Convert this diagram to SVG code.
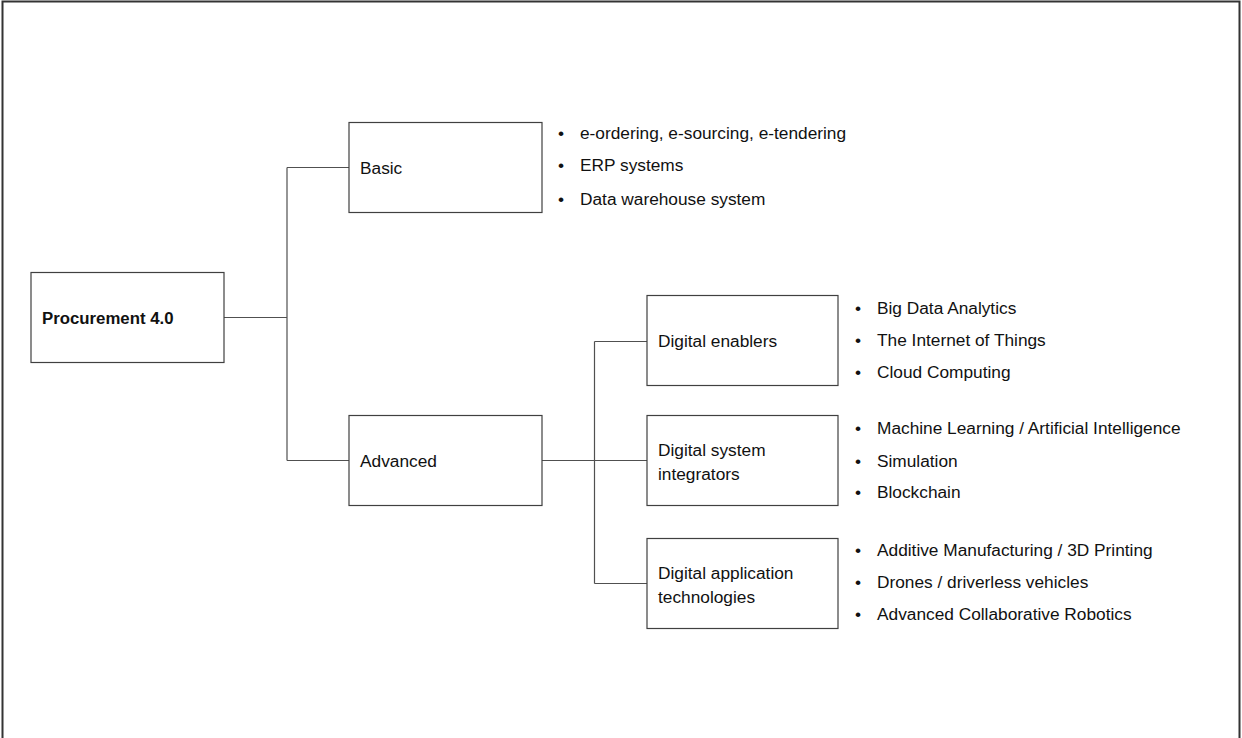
<svg xmlns="http://www.w3.org/2000/svg" width="1242" height="738" viewBox="0 0 1242 738">
<style>
.box{fill:#fff;stroke:#404040;stroke-width:1.2}
.lbl{font-family:"Liberation Sans",Arial,sans-serif;font-size:17.3px;fill:#111}
.b{font-weight:bold;font-size:16.8px}
.conn{fill:none;stroke:#505050;stroke-width:1.2}
</style>
<rect width="1242" height="738" fill="#fff"/>
<path d="M2.5 738V1.5H1239.5V738" fill="none" stroke="#333" stroke-width="2"/>
<g id="connectors" class="conn">
<path d="M224 317.5H287M287 167.5V460.5M287 167.5H349M287 460.5H349"/>
<path d="M542 460.5H647M594.5 341.5V583.5M594.5 341.5H647M594.5 583.5H647"/>
</g>
<g id="n-procurement">
<rect class="box" x="31" y="272.5" width="193" height="90"/>
<text class="lbl b" x="42" y="323.5">Procurement 4.0</text>
</g>
<g id="n-basic">
<rect class="box" x="349" y="122.5" width="193" height="90"/>
<text class="lbl" x="360" y="173.5">Basic</text>
</g>
<g id="n-advanced">
<rect class="box" x="349" y="415.5" width="193" height="90"/>
<text class="lbl" x="360" y="466.5">Advanced</text>
</g>
<g id="n-enablers">
<rect class="box" x="647" y="295.5" width="191" height="90"/>
<text class="lbl" x="658" y="347">Digital enablers</text>
</g>
<g id="n-integrators">
<rect class="box" x="647" y="415.5" width="191" height="90"/>
<text class="lbl" x="658" y="456">Digital system</text>
<text class="lbl" x="658" y="480">integrators</text>
</g>
<g id="n-application">
<rect class="box" x="647" y="538.5" width="191" height="90"/>
<text class="lbl" x="658" y="578.5">Digital application</text>
<text class="lbl" x="658" y="602.5">technologies</text>
</g>
<g id="list-basic" class="lbl">
<text x="558" y="138.5">•</text><text x="580" y="138.5">e-ordering, e-sourcing, e-tendering</text>
<text x="558" y="171">•</text><text x="580" y="171">ERP systems</text>
<text x="558" y="204.5">•</text><text x="580" y="204.5">Data warehouse system</text>
</g>
<g id="list-enablers" class="lbl">
<text x="855" y="313.5">•</text><text x="877" y="313.5">Big Data Analytics</text>
<text x="855" y="345.5">•</text><text x="877" y="345.5">The Internet of Things</text>
<text x="855" y="377.5">•</text><text x="877" y="377.5">Cloud Computing</text>
</g>
<g id="list-integrators" class="lbl">
<text x="855" y="433.5">•</text><text x="877" y="433.5">Machine Learning / Artificial Intelligence</text>
<text x="855" y="466.5">•</text><text x="877" y="466.5">Simulation</text>
<text x="855" y="497.5">•</text><text x="877" y="497.5">Blockchain</text>
</g>
<g id="list-application" class="lbl">
<text x="855" y="555.5">•</text><text x="877" y="555.5">Additive Manufacturing / 3D Printing</text>
<text x="855" y="587.5">•</text><text x="877" y="587.5">Drones / driverless vehicles</text>
<text x="855" y="619.5">•</text><text x="877" y="619.5">Advanced Collaborative Robotics</text>
</g>
</svg>
